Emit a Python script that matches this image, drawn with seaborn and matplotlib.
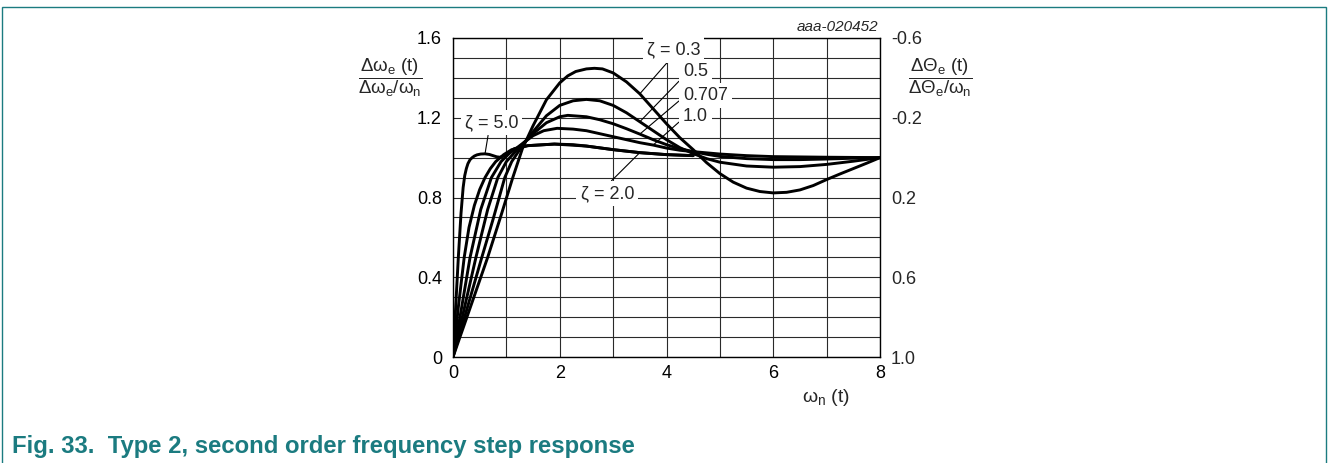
import seaborn as sns
import matplotlib.pyplot as plt
import matplotlib.patches as patches
import pandas as pd

# Curve readings (omega_n * t, normalised frequency error response)
z03_x = [0, 0.3, 0.65, 0.9, 1.12, 1.3, 1.5, 1.75, 2.0, 2.15, 2.3, 2.5, 2.65, 2.8, 3.0, 3.25, 3.5, 3.75, 4.0, 4.25,
         4.5, 4.75, 5.0, 5.25, 5.5, 5.75, 6.0, 6.25, 6.5, 6.75, 7.0, 7.25, 7.5, 7.75, 8.0]
z03_y = [0, 0.23, 0.5, 0.71, 0.9, 1.045, 1.16, 1.29, 1.375, 1.41, 1.432, 1.445, 1.448, 1.445, 1.425, 1.38, 1.32,
         1.245, 1.17, 1.10, 1.04, 0.975, 0.92, 0.877, 0.847, 0.83, 0.823, 0.826, 0.838, 0.86, 0.89, 0.918, 0.945,
         0.972, 1.0]

z05_x = [0, 0.25, 0.54, 0.75, 0.97, 1.1, 1.3, 1.5, 1.75, 2.0, 2.25, 2.5, 2.75, 3.0, 3.25, 3.5, 3.75, 4.0,
         4.25, 4.5, 4.75, 5.0, 5.5, 6.0, 6.5, 7.0, 7.5, 8.0]
z05_y = [0, 0.23, 0.5, 0.69, 0.9, 0.98, 1.06, 1.13, 1.21, 1.262, 1.285, 1.292, 1.285, 1.262, 1.225, 1.18, 1.135, 1.09,
         1.05, 1.02, 0.995, 0.977, 0.958, 0.952, 0.955, 0.966, 0.982, 1.0]

z0707_x = [0, 0.2, 0.43, 0.65, 0.84, 1.0, 1.25, 1.5, 1.75, 2.0, 2.15, 2.5, 2.75, 3.0, 3.25, 3.5, 3.75, 4.0,
           4.25, 4.5, 4.75, 5.0, 5.5, 6.0, 6.5, 7.0, 7.5, 8.0]
z0707_y = [0, 0.23, 0.5, 0.74, 0.9, 0.98, 1.055, 1.12, 1.175, 1.205, 1.212, 1.205, 1.19, 1.17, 1.145, 1.118, 1.09,
           1.065, 1.045, 1.03, 1.017, 1.006, 0.995, 0.99, 0.99, 0.993, 0.997, 1.0]

z10_x = [0, 0.15, 0.32, 0.52, 0.72, 0.9, 1.05, 1.2, 1.5, 1.7, 1.95, 2.25, 2.5, 2.75, 3.0, 3.25, 3.5, 3.75, 4.0,
         4.25, 4.5, 5.0, 5.5, 6.0, 7.0, 8.0]
z10_y = [0, 0.23, 0.5, 0.74, 0.9, 0.98, 1.02, 1.05, 1.11, 1.135, 1.147, 1.143, 1.135, 1.12, 1.105, 1.09, 1.075,
         1.063, 1.048, 1.037, 1.03, 1.018, 1.01, 1.005, 1.002, 1.0]

z20_x = [0, 0.1, 0.21, 0.3, 0.4, 0.5, 0.6, 0.7, 0.8, 0.95, 1.1, 1.4, 1.9, 2.25, 2.5, 3.0, 3.5, 4.0, 4.5]
z20_y = [0, 0.25, 0.5, 0.65, 0.76, 0.84, 0.9, 0.945, 0.98, 1.015, 1.04, 1.06, 1.068, 1.065, 1.058, 1.04, 1.025,
         1.015, 1.01]

z50_x = [0, 0.05, 0.1, 0.15, 0.19, 0.22, 0.25, 0.28, 0.32, 0.36, 0.4, 0.45, 0.52, 0.6, 0.68, 0.75, 0.82, 0.88,
         0.95, 1.05, 1.15, 1.4, 1.9, 2.5, 3.0, 3.5, 4.0, 4.5]
z50_y = [0, 0.25, 0.5, 0.72, 0.85, 0.91, 0.945, 0.97, 0.99, 1.0, 1.008, 1.014, 1.018, 1.019, 1.016, 1.01, 1.004,
         1.002, 1.008, 1.025, 1.045, 1.06, 1.068, 1.058, 1.04, 1.025, 1.015, 1.01]

x_ticks = [0, 2, 4, 6, 8]
y_ticks = [0, 0.4, 0.8, 1.2, 1.6]
y2_ticks = [-0.6, -0.2, 0.2, 0.6, 1.0]

curves = {'0.3': (z03_x, z03_y), '0.5': (z05_x, z05_y), '0.707': (z0707_x, z0707_y),
          '1.0': (z10_x, z10_y), '2.0': (z20_x, z20_y), '5.0': (z50_x, z50_y)}
rows = []
for zeta, (xs, ys) in curves.items():
    for xv, yv in zip(xs, ys):
        rows.append({'wt': xv, 'resp': yv, 'zeta': zeta})
df = pd.DataFrame(rows)

sns.set_style('white')
plt.rcParams['font.family'] = ['Liberation Sans', 'DejaVu Sans']
plt.rcParams['mathtext.fontset'] = 'custom'
plt.rcParams['mathtext.rm'] = 'Liberation Sans'
plt.rcParams['mathtext.it'] = 'Liberation Sans'
plt.rcParams['axes.unicode_minus'] = False

teal = '#1b7b80'
fs = 13
fig = plt.figure(figsize=(13.28, 4.63), dpi=100)
ax = fig.add_axes([453 / 1328, 106 / 463, 427 / 1328, 319 / 463])

sns.lineplot(data=df, x='wt', y='resp', hue='zeta', palette={k: 'black' for k in curves},
             estimator=None, sort=False, legend=False, linewidth=2.1, ax=ax, zorder=3)

ax.set_xlim(0, 8)
ax.set_ylim(0, 1.6)
ax.set_xticks(x_ticks)
ax.set_xticklabels([str(t) for t in x_ticks])
ax.set_yticks(y_ticks)
ax.set_yticklabels([f'{t:g}' for t in y_ticks])
ax.set_xticks([1, 3, 5, 7], minor=True)
ax.set_yticks([i / 10 for i in range(17) if i % 4], minor=True)
ax.grid(which='both', color='#2a2a2a', linewidth=0.8)
ax.tick_params(which='both', length=0, labelsize=fs, colors='black')
ax.tick_params(axis='y', pad=8)
ax.tick_params(axis='x', pad=6)
ax.set_xlabel('')
ax.set_ylabel('')
for s in ax.spines.values():
    s.set_color('black')
    s.set_linewidth(1.0)

ax2 = ax.twinx()
ax2.set_ylim(1.0, -0.6)
ax2.set_yticks(y2_ticks)
ax2.set_yticklabels([f'{t:.1f}' for t in y2_ticks])
ax2.tick_params(length=0, labelsize=fs, pad=8)
for s in ax2.spines.values():
    s.set_visible(False)

# curve labels with leader lines
box = dict(facecolor='white', edgecolor='none', pad=3)
leader = dict(arrowstyle='-', lw=0.8, color='black', shrinkA=0, shrinkB=0)
ax.annotate('ζ = 0.3', xy=(z03_x[16], z03_y[16]), xytext=(4.13, 1.54), ha='center', va='center',
            arrowprops=dict(leader, relpos=(0.45, 0.0)), fontsize=fs, bbox=box, zorder=5)
ax.annotate('0.5', xy=(z05_x[15], z05_y[15]), xytext=(4.31, 1.43), ha='left', va='center',
            arrowprops=dict(leader, relpos=(0.0, 0.2)), fontsize=fs, bbox=box, zorder=5)
ax.annotate('0.707', xy=(z0707_x[15], z0707_y[15]), xytext=(4.31, 1.31), ha='left', va='center',
            arrowprops=dict(leader, relpos=(0.0, 0.4)), fontsize=fs, bbox=box, zorder=5)
ax.annotate('1.0', xy=(z10_x[17], z10_y[17]), xytext=(4.31, 1.205), ha='left', va='center',
            arrowprops=dict(leader, relpos=(0.0, 0.4)), fontsize=fs, bbox=box, zorder=5)
ax.annotate('ζ = 2.0', xy=(z20_x[16], z20_y[16]), xytext=(2.89, 0.82), ha='center', va='center',
            arrowprops=dict(leader, relpos=(0.5, 1.0)), fontsize=fs, bbox=box, zorder=5)
ax.annotate('ζ = 5.0', xy=(z50_x[13], z50_y[13]), xytext=(0.72, 1.175), ha='center', va='center',
            arrowprops=dict(leader, relpos=(0.45, 0.0)), fontsize=fs, bbox=box, zorder=5)

fig.text(390 / 1328, 1 - 78 / 463, r'$\dfrac{\Delta\omega_{e}\ (t)}{\Delta\omega_{e}/\omega_{n}}$',
         ha='center', va='center', fontsize=13.5)
fig.text(940 / 1328, 1 - 78 / 463, r'$\dfrac{\Delta\Theta_{e}\ (t)}{\Delta\Theta_{e}/\omega_{n}}$',
         ha='center', va='center', fontsize=13.5)
fig.text(826 / 1328, 1 - 397 / 463, r'$\omega_{n}\ (t)$', ha='center', va='center', fontsize=14)
fig.text(878 / 1328, 1 - 27 / 463, 'aaa-020452', ha='right', va='center', fontsize=11, style='italic')
fig.text(12 / 1328, 1 - 446 / 463, 'Fig. 33.  Type 2, second order frequency step response',
         ha='left', va='center', fontsize=17.2, fontweight='bold', color=teal)

fig.patches.append(patches.Rectangle((1.5 / 1328, -0.05), 1324 / 1328, 1.05 - 7 / 463,
                                     transform=fig.transFigure, fill=False, edgecolor=teal, linewidth=1.0))

fig.savefig('out.png', dpi=100)
